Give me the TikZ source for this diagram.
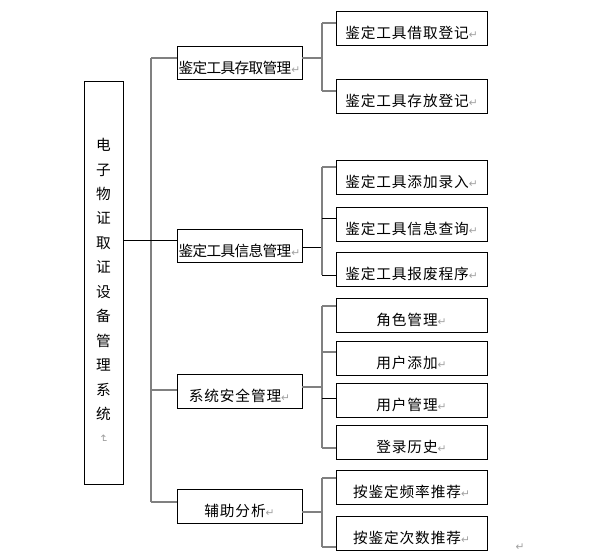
\documentclass[tikz,border=0pt]{standalone}
\usepackage{fontspec}
\setmainfont{Noto Sans CJK SC}
\newfontfamily\djv{DejaVu Sans}
\definecolor{lg}{HTML}{808080}
\definecolor{mk}{HTML}{A0A0A0}
\newcommand{\retm}{{\djv\fontsize{8}{8}\selectfont\textcolor{mk}{↵}}}
\newcommand{\lowtxt}[1]{\raisebox{-3.4pt}[0.88em][0.12em]{#1}}
\begin{document}
\begin{tikzpicture}[x=0.75pt,y=-0.75pt,
  box/.style={draw=black,line width=0.7pt,inner sep=0pt},
  mainbox/.style={box,minimum width=29.25pt,minimum height=302.25pt},
  midbox/.style={box,minimum width=93.75pt,minimum height=25.1pt,font=\fontsize{11}{13}\selectfont\addfontfeature{LetterSpace=6}},
  midtight/.style={midbox,font=\fontsize{11}{13}\selectfont\addfontfeature{LetterSpace=-4.5}},
  rbox/.style={box,minimum width=113.25pt,minimum height=25.5pt,font=\fontsize{11}{13}\selectfont\addfontfeature{LetterSpace=6}},
  gl/.style={draw=lg,line width=1.3pt},
  bl/.style={draw=black,line width=0.9pt}]
\useasboundingbox (0,0) rectangle (599,559);
% boxes
\node[mainbox] (main) at (103.5,282.5) {};
\node[align=center,font=\fontsize{11}{18.35}\selectfont] (maintext) at (103.5,291)
  {电\\子\\物\\证\\取\\证\\设\\备\\管\\理\\系\\统\\[-7pt]\rotatebox{-90}{\retm}};
\node[midtight] (m1) at (239.5,63) {\lowtxt{鉴定工具存取管理\retm}};
\node[midtight] (m2) at (239.5,246) {\lowtxt{鉴定工具信息管理\retm}};
\node[midbox] (m3) at (239.5,391.3) {\lowtxt{系统安全管理\retm}};
\node[midbox] (m4) at (239.5,506.3) {\lowtxt{辅助分析\retm}};
\node[rbox] (r1) at (411.5,28.3) {\lowtxt{鉴定工具借取登记\retm}};
\node[rbox] (r2) at (411.5,96.7) {\lowtxt{鉴定工具存放登记\retm}};
\node[rbox] (r3) at (411.5,177) {\lowtxt{鉴定工具添加录入\retm}};
\node[rbox] (r4) at (411.5,224) {\lowtxt{鉴定工具信息查询\retm}};
\node[rbox] (r5) at (411.5,269.7) {\lowtxt{鉴定工具报废程序\retm}};
\node[rbox] (r6) at (411.5,315.3) {\lowtxt{角色管理\retm}};
\node[rbox] (r7) at (411.5,358) {\lowtxt{用户添加\retm}};
\node[rbox] (r8) at (411.5,400.3) {\lowtxt{用户管理\retm}};
\node[rbox] (r9) at (411.5,442) {\lowtxt{登录历史\retm}};
\node[rbox] (r10) at (411.5,487) {\lowtxt{按鉴定频率推荐\retm}};
\node[rbox] (r11) at (411.5,533) {\lowtxt{按鉴定次数推荐\retm}};
\node[inner sep=0pt] (endmark) at (520,546.7) {\retm};
% trunk
\coordinate (ttop) at (151,57.7);
\coordinate (j2) at (151,240.7);
\coordinate (j3) at (151,390);
\coordinate (tbot) at (151,502.3);
\draw[gl] (ttop) -- (tbot);
\draw[gl] (ttop) -- (m1.west |- ttop);
\draw[bl] (main.east |- j2) -- (m2.west |- j2);
\draw[gl] (j3) -- (m3.west |- j3);
\draw[gl] (tbot) -- (m4.west |- tbot);
% branch 1
\coordinate (v1a) at (322,23.3);
\coordinate (v1b) at (322,91);
\draw[gl] (m1.east |- ttop) -- (v1a |- ttop);
\draw[gl] (v1a) -- (v1b);
\draw[gl] (v1a) -- (r1.west |- v1a);
\draw[gl] (v1b) -- (r2.west |- v1b);
% branch 2
\coordinate (k2) at (322,247.3);
\coordinate (v2a) at (322,167.3);
\coordinate (v2m) at (322,218.3);
\coordinate (v2b) at (322,275.3);
\draw[bl] (m2.east |- k2) -- (k2);
\draw[gl] (v2a) -- (v2b);
\draw[gl] (v2a) -- (r3.west |- v2a);
\draw[bl] (v2m) -- (r4.west |- v2m);
\draw[bl] (v2b) -- (r5.west |- v2b);
% branch 3
\coordinate (k3) at (322,386.7);
\coordinate (v3a) at (322,305.7);
\coordinate (v3m) at (322,351.7);
\coordinate (v3n) at (322,398.3);
\coordinate (v3b) at (322,447.7);
\draw[gl] (m3.east |- k3) -- (k3);
\draw[gl] (v3a) -- (v3b);
\draw[gl] (v3a) -- (r6.west |- v3a);
\draw[gl] (v3m) -- (r7.west |- v3m);
\draw[bl] (v3n) -- (r8.west |- v3n);
\draw[gl] (v3b) -- (r9.west |- v3b);
% branch 4
\coordinate (k4) at (322,512.3);
\coordinate (v4a) at (322,478.3);
\coordinate (v4b) at (322,546.7);
\draw[gl] (m4.east |- k4) -- (k4);
\draw[gl] (v4a) -- (v4b);
\draw[gl] (v4a) -- (r10.west |- v4a);
\draw[gl] (v4b) -- (r11.west |- v4b);
\end{tikzpicture}
\end{document}
